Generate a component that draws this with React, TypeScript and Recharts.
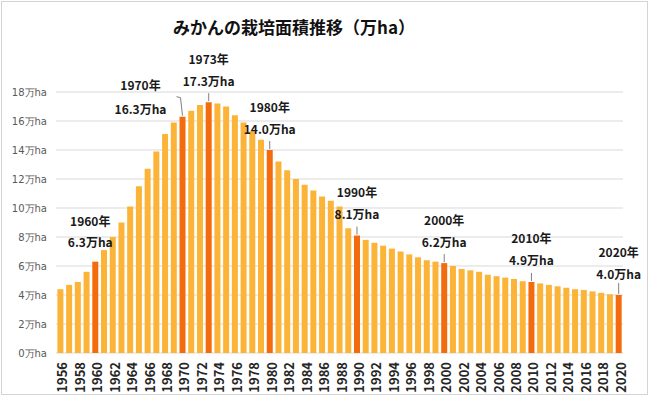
import React from 'react';
import { BarChart, Bar, XAxis, YAxis, CartesianGrid, Cell } from 'recharts';

const years = [
  1956, 1957, 1958, 1959, 1960, 1961, 1962, 1963, 1964, 1965,
  1966, 1967, 1968, 1969, 1970, 1971, 1972, 1973, 1974, 1975,
  1976, 1977, 1978, 1979, 1980, 1981, 1982, 1983, 1984, 1985,
  1986, 1987, 1988, 1989, 1990, 1991, 1992, 1993, 1994, 1995,
  1996, 1997, 1998, 1999, 2000, 2001, 2002, 2003, 2004, 2005,
  2006, 2007, 2008, 2009, 2010, 2011, 2012, 2013, 2014, 2015,
  2016, 2017, 2018, 2019, 2020,
];

// 栽培面積（万ha）
const areas = [
  4.4, 4.7, 4.9, 5.6, 6.3, 7.1, 8.0, 9.0, 10.1, 11.5,
  12.7, 13.9, 15.1, 15.9, 16.3, 16.7, 17.1, 17.3, 17.2, 17.0,
  16.4, 15.9, 15.3, 14.7, 14.0, 13.2, 12.6, 12.0, 11.6, 11.2,
  10.8, 10.5, 10.1, 8.6, 8.1, 7.8, 7.6, 7.4, 7.2, 7.0,
  6.8, 6.6, 6.4, 6.3, 6.2, 6.0, 5.8, 5.7, 5.6, 5.4,
  5.3, 5.2, 5.1, 4.95, 4.9, 4.8, 4.7, 4.6, 4.5, 4.4,
  4.35, 4.25, 4.15, 4.05, 4.0,
];

const highlightYears = [1960, 1970, 1973, 1980, 1990, 2000, 2010, 2020];
const yTicks = [0, 2, 4, 6, 8, 10, 12, 14, 16, 18];
const title = 'みかんの栽培面積推移（万ha）';

const data = years.map((y, i) => ({ year: String(y), area: areas[i] }));

const AMBER = '#FBB437';
const ORANGE = '#F46B0E';
const JP = '"Noto Sans CJK JP", "Noto Sans", sans-serif';

const XTick = (props: any) => {
  const { x, y, payload } = props;
  return (
    <g transform={`translate(${x},${y + 1}) rotate(-90)`}>
      <text x={0} y={0} dy={7} textAnchor="end" fill="#262626" fontSize={13} fontWeight="bold" fontFamily={JP}>
        {payload.value}
      </text>
    </g>
  );
};

const renderAnnot = (props: any) => {
  const { x, y, width, index } = props;
  const yr = years[index];
  if (!highlightYears.includes(yr)) return null;
  const cx = Number(x) + Number(width) / 2;
  const top = Number(y);
  const val = areas[index];
  let dx = 0;
  let yearY = top - 44;
  let valY = top - 22;
  let leader: React.ReactNode = (
    <line x1={cx} x2={cx} y1={top - 9} y2={top - 1} stroke="#7f7f7f" strokeWidth={1} />
  );
  if (yr === 1960) {
    dx = -5;
    yearY = top - 41;
    valY = top - 20;
    leader = null;
  } else if (yr === 1970) {
    dx = -42;
    yearY = top - 32;
    valY = top - 8;
    leader = (
      <polyline
        points={`${cx - 6},${top - 20} ${cx - 2},${top - 19} ${cx},${top - 1}`}
        fill="none"
        stroke="#7f7f7f"
        strokeWidth={1}
      />
    );
  } else if (yr === 2020) {
    leader = <line x1={cx} x2={cx} y1={top - 12} y2={top - 1} stroke="#7f7f7f" strokeWidth={1} />;
  }
  return (
    <g>
      {leader}
      <text x={cx + dx} y={yearY} textAnchor="middle" dominantBaseline="central" fontSize={12} fontWeight="bold" fill="#1a1a1a" fontFamily={JP}>
        {`${yr}年`}
      </text>
      <text x={cx + dx} y={valY} textAnchor="middle" dominantBaseline="central" fontSize={12} fontWeight="bold" fill="#1a1a1a" fontFamily={JP}>
        {`${val.toFixed(1)}万ha`}
      </text>
    </g>
  );
};

export default function App() {
  return (
    <div style={{ position: 'relative', width: 650, height: 397, background: '#fff' }}>
      <style>{'body{margin:0;}'}</style>
      <BarChart
        width={650}
        height={397}
        data={data}
        margin={{ top: 92, right: 27, bottom: 0, left: 0 }}
        barCategoryGap="16%"
      >
        <CartesianGrid vertical={false} stroke="#d9d9d9" />
        <XAxis
          dataKey="year"
          interval={1}
          tick={<XTick />}
          height={44}
          axisLine={false}
          tickLine={false}
        />
        <YAxis
          domain={[0, 18]}
          ticks={yTicks}
          tickFormatter={(v: number) => `${v}万ha`}
          axisLine={false}
          tickLine={false}
          width={56}
          tickMargin={3}
          tick={{ fill: '#595959', fontSize: 10, fontFamily: 'Verdana, "DejaVu Sans", sans-serif' }}
        />
        <Bar dataKey="area" isAnimationActive={false} label={renderAnnot}>
          {data.map((d) => (
            <Cell key={d.year} fill={highlightYears.includes(Number(d.year)) ? ORANGE : AMBER} />
          ))}
        </Bar>
      </BarChart>
      <div
        style={{
          position: 'absolute',
          left: 173,
          top: 14,
          lineHeight: '26px',
          fontSize: 17,
          fontWeight: 'bold',
          fontFamily: JP,
          color: '#111',
          whiteSpace: 'nowrap',
        }}
      >
        {title}
      </div>
      <div
        style={{
          position: 'absolute',
          left: 1,
          top: 1,
          width: 647,
          height: 394,
          boxSizing: 'border-box',
          border: '1px solid #d4d4d4',
          pointerEvents: 'none',
        }}
      />
    </div>
  );
}
